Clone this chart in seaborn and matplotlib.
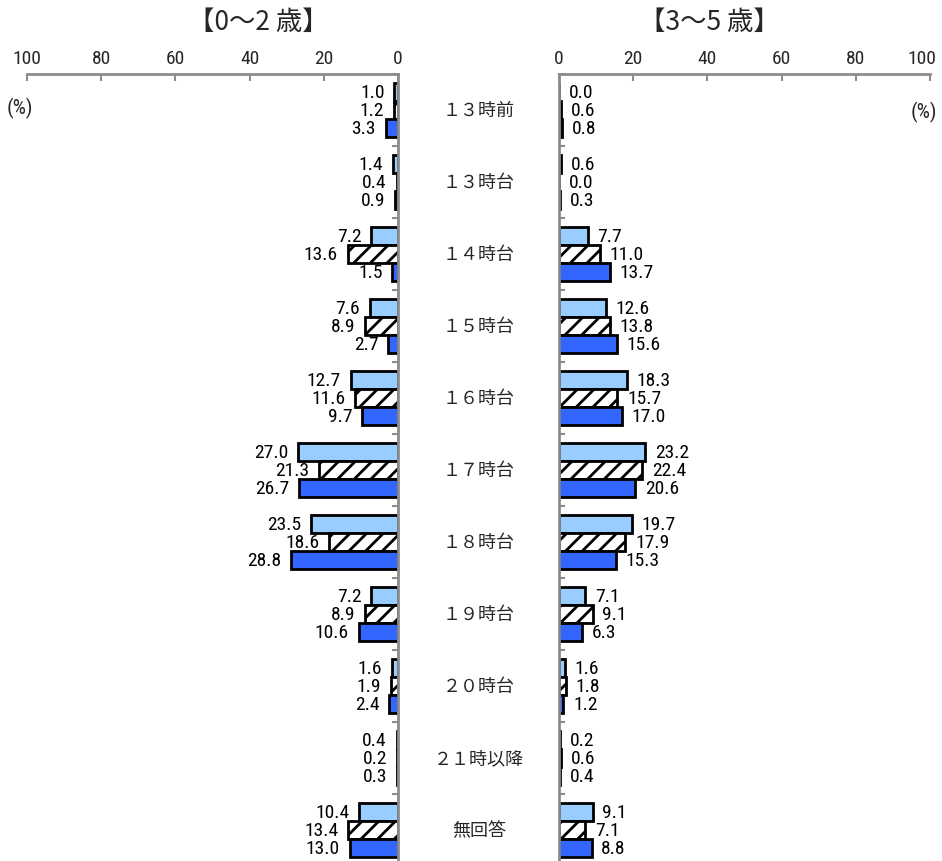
import numpy as np
import pandas as pd
import matplotlib
matplotlib.use("Agg")
import matplotlib.pyplot as plt
import matplotlib.transforms as mtransforms
from matplotlib import font_manager as fm
import seaborn as sns

categories = ["１３時前", "１３時台", "１４時台", "１５時台", "１６時台", "１７時台",
              "１８時台", "１９時台", "２０時台", "２１時以降", "無回答"]
series = ["系列1", "系列2", "系列3"]

# 0～2歳
left_s1 = [1.0, 1.4, 7.2, 7.6, 12.7, 27.0, 23.5, 7.2, 1.6, 0.4, 10.4]
left_s2 = [1.2, 0.4, 13.6, 8.9, 11.6, 21.3, 18.6, 8.9, 1.9, 0.2, 13.4]
left_s3 = [3.3, 0.9, 1.5, 2.7, 9.7, 26.7, 28.8, 10.6, 2.4, 0.3, 13.0]
# 3～5歳
right_s1 = [0.0, 0.6, 7.7, 12.6, 18.3, 23.2, 19.7, 7.1, 1.6, 0.2, 9.1]
right_s2 = [0.6, 0.0, 11.0, 13.8, 15.7, 22.4, 17.9, 9.1, 1.8, 0.6, 7.1]
right_s3 = [0.8, 0.3, 13.7, 15.6, 17.0, 20.6, 15.3, 6.3, 1.2, 0.4, 8.8]

xticks = [0, 20, 40, 60, 80, 100]
titles = ["【0～2 歳】", "【3～5 歳】"]

sns.set_style("white")
plt.rcParams['font.family'] = ['DejaVu Sans', 'Noto Sans CJK JP']
plt.rcParams['hatch.linewidth'] = 2.0

# choose a narrow font if one exists
names = {f.name for f in fm.fontManager.ttflist}
cond_dejavu = any(f.name == 'DejaVu Sans' and str(f.stretch) in ('condensed', '300', 'semi-condensed')
                  for f in fm.fontManager.ttflist)
narrow_family = None
for n in ['Liberation Sans Narrow', 'Roboto Condensed', 'Open Sans Condensed']:
    if n in names:
        narrow_family = n
        break
if narrow_family is not None:
    NARROW = dict(family=[narrow_family, 'DejaVu Sans'])
elif cond_dejavu:
    NARROW = dict(family=['DejaVu Sans'], stretch='condensed')
else:
    NARROW = dict(family=['DejaVu Sans'])

palette = {"系列1": "#99CCFF", "系列2": "#FFFFFF", "系列3": "#3366FF"}

def make_df(a, b, c):
    rows = []
    for s, vals in zip(series, [a, b, c]):
        for cat, v in zip(categories, vals):
            rows.append({"cat": cat, "val": v, "series": s})
    return pd.DataFrame(rows)

df_left = make_df(left_s1, left_s2, left_s3)
df_right = make_df(right_s1, right_s2, right_s3)

W, H = 942, 862
fig = plt.figure(figsize=(W / 100, H / 100), dpi=100)
ax_l = fig.add_axes([27 / W, -5 / H, 371 / W, 792 / H])
ax_r = fig.add_axes([559 / W, -5 / H, 371 / W, 792 / H])

gray = "#8c8c8c"
small = narrow_family is None and not cond_dejavu
vsize = 11.5 if small else 14
tsize = 11.5 if small else 14

for ax, df, side in [(ax_l, df_left, "left"), (ax_r, df_right, "right")]:
    sns.barplot(data=df, y="cat", x="val", hue="series", hue_order=series,
                order=categories, palette=palette, orient="h", ax=ax,
                width=0.75, edgecolor="black", linewidth=2.0, legend=False,
                errorbar=None, saturation=1)
    for p in ax.containers[1]:
        p.set_hatch("//")
    if side == "left":
        ax.set_xlim(100, 0)
    else:
        ax.set_xlim(0, 100)
    ax.set_ylim(len(categories) - 0.5, -0.5)
    for cont in ax.containers:
        ax.bar_label(cont, fmt="%.1f", padding=7, fontsize=vsize, color="black", **NARROW)
    ax.xaxis.tick_top()
    ax.set_xticks(xticks)
    labels = [str(t) for t in xticks]
    if side == "right":
        labels[-1] = ""
    ax.set_xticklabels(labels, fontsize=tsize, **NARROW)
    ax.tick_params(axis="x", direction="in", length=5, width=1.5, color=gray, pad=5)
    if side == "right":
        ax.annotate(str(xticks[-1]), xy=(xticks[-1], 1), xycoords=("data", "axes fraction"),
                    xytext=(-6, 5), textcoords="offset points", ha="center", va="bottom",
                    fontsize=tsize, annotation_clip=False, **NARROW)
    ax.set_xlabel("")
    ax.set_ylabel("")
    ax.set_yticks([])
    ax.set_yticks(np.arange(-0.5, len(categories), 1), minor=True)
    if side == "left":
        ax.yaxis.tick_right()
    else:
        ax.yaxis.tick_left()
    ax.tick_params(axis="y", which="minor", direction="in", length=4, width=1.5, color=gray)
    for sp in ax.spines.values():
        sp.set_visible(False)
    ax.spines["top"].set_visible(True)
    ax.spines["top"].set_color(gray)
    ax.spines["top"].set_linewidth(2)
    inner = "right" if side == "left" else "left"
    ax.spines[inner].set_visible(True)
    ax.spines[inner].set_color(gray)
    ax.spines[inner].set_linewidth(2)

# central category labels
trans = mtransforms.blended_transform_factory(fig.transFigure, ax_l.transData)
for i, cat in enumerate(categories):
    fig.text(479 / W, i, cat, transform=trans, ha="center", va="center",
             fontsize=13, family=['Noto Sans CJK JP', 'DejaVu Sans'])

fig.text(258 / W, 1 - 22 / H, titles[0], ha="center", va="center", fontsize=19,
         family=['Noto Sans CJK JP', 'DejaVu Sans'])
fig.text(709 / W, 1 - 22 / H, titles[1], ha="center", va="center", fontsize=19,
         family=['Noto Sans CJK JP', 'DejaVu Sans'])

fig.text(20 / W, 1 - 108 / H, "(%)", ha="center", va="center", fontsize=15, **NARROW)
fig.text(924 / W, 1 - 112 / H, "(%)", ha="center", va="center", fontsize=15, **NARROW)

fig.savefig("out.png", dpi=100)
